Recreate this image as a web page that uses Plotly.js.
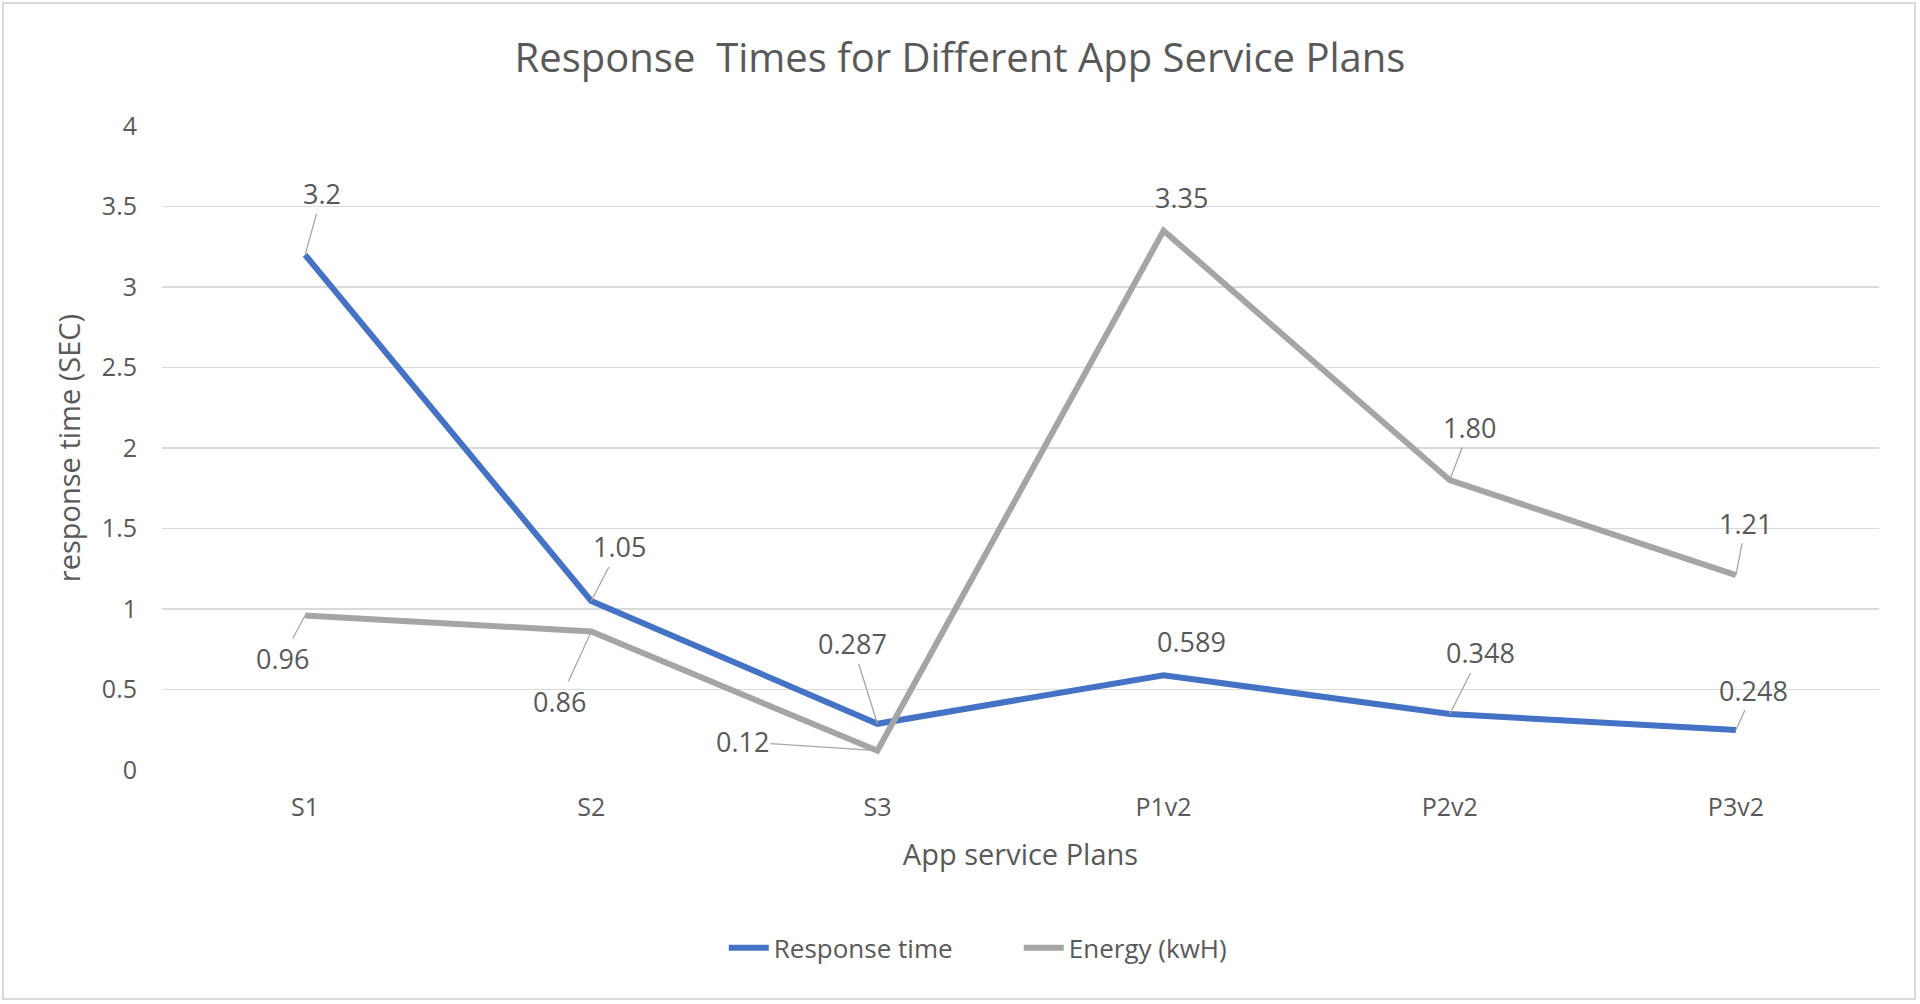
<!DOCTYPE html>
<html>
<head>
<meta charset="utf-8">
<script src="https://cdn.plot.ly/plotly-3.0.1.min.js"></script>
<style>
html,body{margin:0;padding:0;background:#fff;}
#wrap{position:relative;width:1920px;height:1004px;}
#chart{width:1920px;height:1004px;}
#frame{position:absolute;left:2px;top:2px;width:1914px;height:998px;border:2px solid #d9d9d9;box-sizing:border-box;pointer-events:none;}
</style>
</head>
<body>
<div id="wrap"><div id="chart"></div><div id="frame"></div></div>
<script>
// ---- data ----
const plans = ["S1", "S2", "S3", "P1v2", "P2v2", "P3v2"];
const responseTime = [3.2, 1.05, 0.287, 0.589, 0.348, 0.248];
const energy = [0.96, 0.86, 0.12, 3.35, 1.80, 1.21];
const responseLabels = ["3.2", "1.05", "0.287", "0.589", "0.348", "0.248"];
const energyLabels = ["0.96", "0.86", "0.12", "3.35", "1.80", "1.21"];
const yTickVals = [0, 0.5, 1, 1.5, 2, 2.5, 3, 3.5, 4];
const yTickText = ["0", "0.5", "1", "1.5", "2", "2.5", "3", "3.5", "4"];

// ---- label offsets (style) ----
const respOffsets = [[17,-61,true],[28,-54,true],[-25,-80,true],[28,-34,false],[31,-61,true],[18,-40,true]];
const enOffsets = [[-23,43,true],[-32,70,true],[-135,-9,true],[18,-33,false],[20,-53,true],[10,-52,true]];

const BLUE = "#4472C4", GRAY = "#A5A5A5", TXT = "#595959", FONT = "Open Sans, sans-serif";

function mkAnn(xs, ys, labels, offs) {
  return xs.map((x, i) => ({
    x: x, y: ys[i], xref: "x", yref: "y", text: labels[i],
    showarrow: true, arrowhead: 0, arrowwidth: 1.3, standoff: 0, startstandoff: 0,
    arrowcolor: offs[i][2] ? "#a6a6a6" : "rgba(0,0,0,0)",
    ax: offs[i][0], ay: offs[i][1],
    font: {family: FONT, size: 27, color: TXT}
  }));
}

const traces = [
  {x: plans, y: responseTime, type: "scatter", mode: "lines", name: "Response time",
   line: {color: BLUE, width: 6}},
  {x: plans, y: energy, type: "scatter", mode: "lines", name: "Energy (kwH)",
   line: {color: GRAY, width: 6}}
];

const layout = {
  width: 1920, height: 1004,
  paper_bgcolor: "#fff", plot_bgcolor: "#fff",
  margin: {l: 162, r: 41, t: 126, b: 234},
  font: {family: FONT, color: TXT},
  title: {text: "Response  Times for Different App Service Plans", x: 0.5, xref: "container", y: 0.942, yanchor: "middle",
          font: {family: FONT, size: 40, color: TXT}},
  xaxis: {
    type: "category", range: [-0.5, 5.5], showgrid: false, zeroline: false, showline: false,
    ticks: "", ticklabelstandoff: 20,
    tickfont: {family: FONT, size: 25, color: TXT},
    title: {text: "App service Plans", font: {family: FONT, size: 29, color: TXT}, standoff: 22}
  },
  yaxis: {
    range: [0, 4], tickvals: yTickVals, ticktext: yTickText,
    showgrid: true, gridcolor: "#d9d9d9", gridwidth: 1.5, zeroline: false, showline: false,
    ticks: "", ticklabelstandoff: 24,
    tickfont: {family: FONT, size: 25, color: TXT},
    title: {text: "response time (SEC)", font: {family: FONT, size: 29, color: TXT}, standoff: 12}
  },
  showlegend: true,
  legend: {orientation: "h", x: 0.499, xanchor: "center", y: -0.276, yanchor: "middle",
           font: {family: FONT, size: 26, color: TXT}, itemwidth: 40, tracegroupgap: 0,
           entrywidth: 240, entrywidthmode: "pixels"},
  annotations: mkAnn(plans, responseTime, responseLabels, respOffsets)
    .concat(mkAnn(plans, energy, energyLabels, enOffsets))
};

Plotly.newPlot("chart", traces, layout, {displayModeBar: false, staticPlot: true});
</script>
</body>
</html>
